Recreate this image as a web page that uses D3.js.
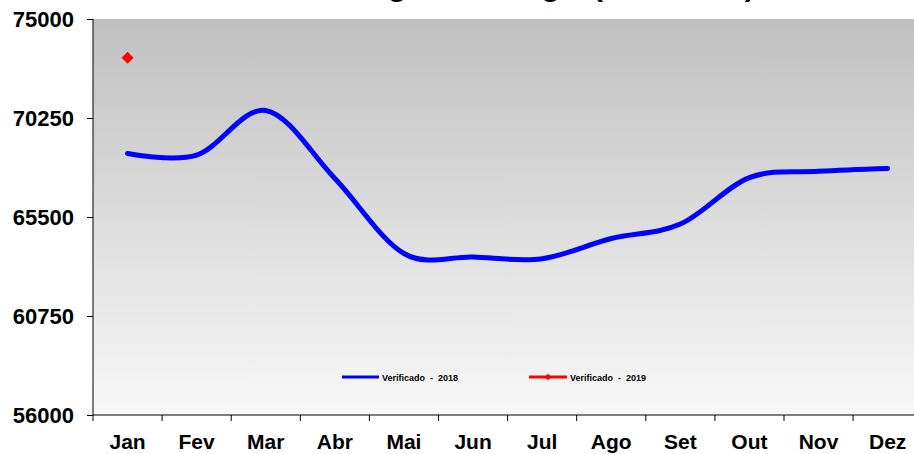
<!DOCTYPE html>
<html><head><meta charset="utf-8">
<script src="https://cdn.jsdelivr.net/npm/d3@7"></script>
<style>
html,body{margin:0;padding:0;background:#fff;overflow:hidden;}
text{font-family:Arial,"Liberation Sans",sans-serif;font-weight:bold;fill:#000;}
</style></head>
<body>
<svg id="c" width="914" height="454"></svg>
<script>
const titleText = "Carga de Energia (MWmédio)";
const months = ["Jan","Fev","Mar","Abr","Mai","Jun","Jul","Ago","Set","Out","Nov","Dez"];
const values2018 = [68550, 68470, 70610, 67350, 63750, 63580, 63500, 64470, 65160, 67390, 67690, 67830];
const values2019 = [73140];
const yTicks = [56000, 60750, 65500, 70250, 75000];
const seriesNames = ["Verificado  -  2018", "Verificado  -  2019"];

(function(){
const svg = d3.select("#c");
const pl = 93, pr = 922.2, pt = 19, pb = 415;

const x = d3.scaleBand().domain(months).range([pl, pr]).padding(0);
const y = d3.scaleLinear().domain([56000, 75000]).range([pb, pt]);

const defs = svg.append("defs");
const grad = defs.append("linearGradient").attr("id","bg").attr("x1",0).attr("y1",0).attr("x2",0).attr("y2",1);
grad.append("stop").attr("offset","0%").attr("stop-color","#c0c0c0");
grad.append("stop").attr("offset","100%").attr("stop-color","#f8f8f8");
svg.append("rect").attr("x",pl).attr("y",pt).attr("width",pr-pl).attr("height",pb-pt).attr("fill","url(#bg)");

// title (mostly above the visible area, as in the reference)
svg.append("text").attr("x",338).attr("y",-4).style("font-size","30px").text(titleText);

// y axis
const yAxis = svg.append("g").attr("transform",`translate(${pl},0)`)
  .call(d3.axisLeft(y).tickValues(yTicks).tickSize(6).tickPadding(13).tickFormat(d3.format("d")));
yAxis.select(".domain").attr("stroke","#000").attr("d",`M0,${pt}V${pb}`);
yAxis.selectAll(".tick line").attr("stroke","#000");
yAxis.selectAll(".tick text").style("font-size","22px").attr("dy","0.36em");

// x axis
svg.append("line").attr("x1",pl).attr("x2",pr).attr("y1",pb).attr("y2",pb).attr("stroke","#000");
svg.append("g").selectAll("line").data(months).join("line")
  .attr("x1",d=>x(d)).attr("x2",d=>x(d)).attr("y1",pb).attr("y2",pb+6).attr("stroke","#000");
svg.append("g").selectAll("text").data(months).join("text")
  .attr("x",d=>x(d)+x.bandwidth()/2).attr("y",449).attr("text-anchor","middle")
  .style("font-size","21px").text(d=>d);

// 2018 line
const line = d3.line().x((d,i)=>x(months[i])+x.bandwidth()/2).y(d=>y(d)).curve(d3.curveCatmullRom.alpha(0));
svg.append("path").datum(values2018).attr("d",line).attr("fill","none")
  .attr("stroke","#0000ff").attr("stroke-width",5).attr("stroke-linecap","round").attr("stroke-linejoin","round");

// 2019 points
svg.append("g").selectAll("path").data(values2019).join("path")
  .attr("d",d3.symbol().type(d3.symbolSquare).size(72)).attr("fill","#ff0000")
  .attr("transform",(d,i)=>`translate(${x(months[i])+x.bandwidth()/2},${y(d)}) rotate(45)`);

// legend
const lg = svg.append("g");
lg.append("line").attr("x1",342).attr("x2",379).attr("y1",377).attr("y2",377).attr("stroke","#0000ff").attr("stroke-width",3);
lg.append("text").attr("x",382).attr("y",380.5).style("font-size","9px").style("white-space","pre").text(seriesNames[0]);
lg.append("line").attr("x1",529).attr("x2",567).attr("y1",377).attr("y2",377).attr("stroke","#ff0000").attr("stroke-width",3);
lg.append("path").attr("transform","translate(548,377) rotate(45)").attr("d",d3.symbol().type(d3.symbolSquare).size(22)).attr("fill","#ff0000");
lg.append("text").attr("x",570).attr("y",380.5).style("font-size","9px").style("white-space","pre").text(seriesNames[1]);
})();
</script>
</body></html>
